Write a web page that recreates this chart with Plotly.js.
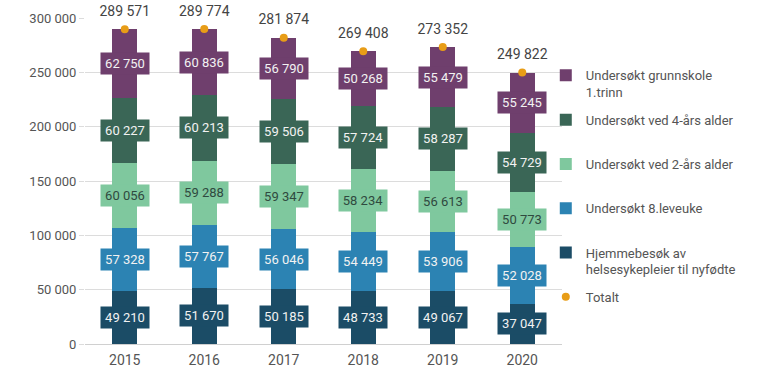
<!DOCTYPE html>
<html>
<head>
<meta charset="utf-8">
<script src="https://cdn.plot.ly/plotly-3.0.1.min.js"></script>
<style>html,body{margin:0;padding:0;background:#fff}#chart{width:768px;height:379px}</style>
</head>
<body>
<div id="chart"></div>
<script>
const years = [2015, 2016, 2017, 2018, 2019, 2020];
const hjemmebesok = [49210, 51670, 50185, 48733, 49067, 37047];
const leveuke8 = [57328, 57767, 56046, 54449, 53906, 52028];
const alder2 = [60056, 59288, 59347, 58234, 56613, 50773];
const alder4 = [60227, 60213, 59506, 57724, 58287, 54729];
const grunnskole = [62750, 60836, 56790, 50268, 55479, 55245];
const totalt = [289571, 289774, 281874, 269408, 273352, 249822];

const seriesNames = [
  'Hjemmebesøk av<br>helsesykepleier til nyfødte',
  'Undersøkt 8.leveuke<br> ',
  'Undersøkt ved 2-års alder<br> ',
  'Undersøkt ved 4-års alder<br> ',
  'Undersøkt grunnskole<br>1.trinn'
];
const seriesValues = [hjemmebesok, leveuke8, alder2, alder4, grunnskole];
const seriesColors = ['#1b4c66', '#2c83b3', '#7fc89e', '#3a6656', '#6f3f6d'];
const labelColors = ['#f2f2f2', '#f2f2f2', '#2f4a3f', '#f2f2f2', '#f2f2f2'];
const legendRanks = [5, 4, 3, 2, 1];

function fmt(v) { return String(v).replace(/\B(?=(\d{3})+(?!\d))/g, ' '); }

const data = [];
const annotations = [];
const cum = years.map(() => 0);
seriesValues.forEach((vals, i) => {
  data.push({
    type: 'bar', x: years, y: vals, name: seriesNames[i], legendgroup: 'g' + i,
    legendrank: legendRanks[i],
    marker: {color: seriesColors[i]}, width: 0.32, hoverinfo: 'skip'
  });
  vals.forEach((v, j) => {
    annotations.push({
      x: years[j], y: cum[j] + v / 2, xref: 'x', yref: 'y', text: fmt(v),
      showarrow: false, bgcolor: seriesColors[i], borderpad: 2, width: 44, height: 17,
      font: {family: 'Roboto', size: 13, color: labelColors[i]}
    });
    cum[j] += v;
  });
});
data.push({
  type: 'scatter', mode: 'markers', x: years, y: totalt, name: 'Totalt',
  legendgroup: 'tot', legendrank: 6, marker: {color: '#e89d17', size: 8}, cliponaxis: false,
  hoverinfo: 'skip'
});
data.push({
  type: 'scatter', mode: 'markers+text', x: years, y: totalt, showlegend: false,
  text: totalt.map(fmt), textposition: 'top center',
  marker: {size: 14, opacity: 0, color: '#fff'},
  textfont: {family: 'Roboto', size: 14, color: '#444'}, cliponaxis: false,
  hoverinfo: 'skip'
});

const layout = {
  width: 768, height: 379,
  margin: {l: 85, r: 206, t: 18, b: 35},
  barmode: 'stack',
  separators: ', ',
  paper_bgcolor: '#fff', plot_bgcolor: '#fff',
  font: {family: 'Roboto', size: 13, color: '#555'},
  xaxis: {type: 'linear', range: [2014.5, 2020.5], dtick: 1, tickformat: 'd',
          showgrid: false, showline: false, zeroline: false, ticks: '',
          ticklabelstandoff: 6,
          tickfont: {size: 14, color: '#555'}, fixedrange: true},
  yaxis: {range: [0, 300000], dtick: 50000, tickformat: ',d', gridcolor: '#dcdcdc',
          zeroline: true, zerolinecolor: '#d0d0d0', zerolinewidth: 1,
          ticks: 'outside', ticklen: 5, tickcolor: '#dcdcdc',
          tickfont: {size: 13, color: '#555'}, fixedrange: true},
  showlegend: true,
  legend: {x: 0.966, xanchor: 'left', y: 0.87, yanchor: 'top',
           traceorder: 'grouped', tracegroupgap: 7.5, valign: 'top',
           itemwidth: 30, font: {family: 'Roboto', size: 13, color: '#555'},
           bgcolor: 'rgba(0,0,0,0)'},
  annotations: annotations
};
Plotly.newPlot('chart', data, layout, {staticPlot: true, displayModeBar: false});
</script>
</body>
</html>
